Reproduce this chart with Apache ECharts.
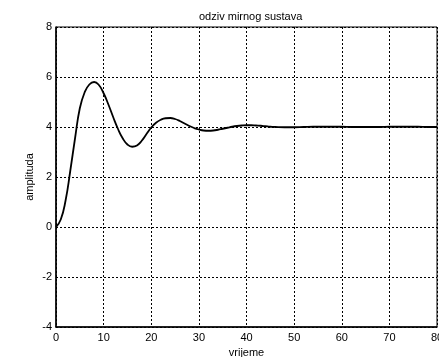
<!DOCTYPE html>
<html>
<head>
<meta charset="utf-8">
<script src="https://cdn.jsdelivr.net/npm/echarts@6/dist/echarts.min.js"></script>
<style>
  html, body { margin: 0; padding: 0; background: #fff; }
  #chart { width: 439px; height: 357px; }
</style>
</head>
<body>
<div id="chart"></div>
<script>
// vrijeme (x) i amplituda (y), ocitano sa slike
var vrijeme = [0, 1, 2, 3, 4, 5, 6, 7, 8, 9, 10, 11, 12, 13, 14, 15, 16, 17, 18, 19, 20,
    21, 22, 23, 24, 25, 26, 27, 28, 29, 30, 31, 32, 33, 34, 35, 36, 37, 38, 39, 40,
    41, 42, 43, 44, 45, 46, 48, 50, 52, 54, 56, 58, 60, 62, 64, 66, 68, 70, 72, 74, 76, 78, 80];
var amplituda = [0, 0.3, 1.05, 2.25, 3.55, 4.75, 5.38, 5.7, 5.8, 5.68, 5.35, 4.9, 4.4, 3.93, 3.55, 3.3, 3.21, 3.26, 3.45, 3.72, 3.98,
    4.17, 4.29, 4.35, 4.36, 4.32, 4.24, 4.14, 4.04, 3.96, 3.9, 3.86, 3.85, 3.86, 3.89, 3.93, 3.97, 4.01, 4.04, 4.06, 4.07,
    4.07, 4.06, 4.05, 4.03, 4.01, 4.0, 3.99, 3.99, 4.0, 4.01, 4.01, 4.01, 4.01, 4.0, 4.0, 4.0, 4.0, 4.01, 4.01, 4.01, 4.01, 4.0, 4.0];

var chart = echarts.init(document.getElementById('chart'));

var data = [];
for (var i = 0; i < vrijeme.length; i++) {
    data.push([vrijeme[i], amplituda[i]]);
}

var fontName = 'Liberation Sans';
var gridLine = { show: true, lineStyle: { color: '#000', width: 1, type: [2, 2] } };

var option = {
    backgroundColor: '#fff',
    animation: false,
    title: {
        text: 'odziv mirnog sustava',
        left: 194,
        top: 6,
        textStyle: { fontFamily: fontName, fontSize: 11, fontWeight: 'normal', color: '#000' }
    },
    grid: {
        left: 56, right: 2, top: 27, bottom: 30,
        outerBoundsMode: 'none',
        containLabel: false,
        show: true, borderColor: '#000', borderWidth: 1, backgroundColor: '#fff'
    },
    xAxis: {
        type: 'value',
        min: 0, max: 80, interval: 10,
        name: 'vrijeme',
        nameLocation: 'middle',
        nameGap: 20,
        nameMoveOverlap: false,
        nameTextStyle: { fontFamily: fontName, fontSize: 11, color: '#000' },
        axisLine: { show: true, onZero: false, lineStyle: { color: '#000', width: 1.5 } },
        axisTick: { show: false },
        axisLabel: { fontFamily: fontName, fontSize: 11, color: '#000', margin: 5, showMaxLabel: true },
        splitLine: gridLine
    },
    yAxis: {
        type: 'value',
        min: -4, max: 8, interval: 2,
        name: 'amplituda',
        nameLocation: 'middle',
        nameGap: 21,
        nameMoveOverlap: false,
        nameTextStyle: { fontFamily: fontName, fontSize: 11, color: '#000' },
        axisLine: { show: true, onZero: false, lineStyle: { color: '#000', width: 1.5 } },
        axisTick: { show: false },
        axisLabel: { fontFamily: fontName, fontSize: 11, color: '#000', margin: 4 },
        splitLine: gridLine
    },
    series: [{
        type: 'line',
        data: data,
        smooth: true,
        showSymbol: false,
        lineStyle: { color: '#000', width: 1.8 }
    }]
};

chart.setOption(option);
</script>
</body>
</html>
